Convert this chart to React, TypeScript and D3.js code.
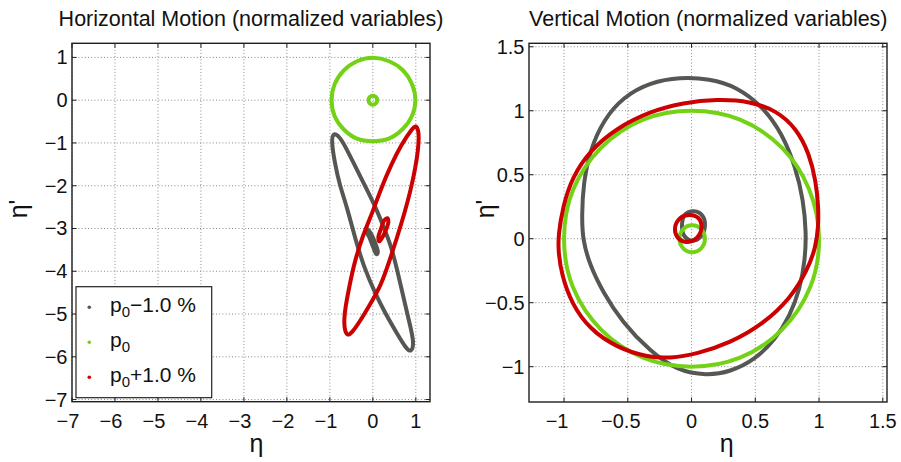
import React from "react";
import * as d3 from "d3";

type Pt = [number, number];

const FONT = "'Liberation Sans', Arial, Helvetica, sans-serif";

// series: p0-1.0 %, p0, p0+1.0 %
const seriesColors = ["#555753", "#73d216", "#cc0000"];
const legendSuffix = ["−1.0 %", "", "+1.0 %"];

// ---------- Horizontal motion (normalized variables) ----------
const hGrayBig: Pt[] = [
  [-0.92, -0.75], [-0.78, -0.85], [-0.658, -1.046], [-0.426, -1.513], [-0.193, -1.981],
  [0.04, -2.449], [0.233, -2.917], [0.419, -3.392], [0.558, -3.93], [0.737, -4.718],
  [0.884, -5.333], [0.96, -5.7], [0.89, -5.9], [0.774, -5.808], [0.542, -5.42],
  [0.272, -4.952], [0.04, -4.484], [-0.193, -3.937], [-0.395, -3.3], [-0.6, -2.5],
  [-0.774, -1.981], [-0.891, -1.434], [-0.965, -0.96],
];
const hGraySmall: Pt[] = [
  [-0.128, -3.018], [-0.047, -3.111], [0.047, -3.322], [0.116, -3.556],
  [0.081, -3.602], [0.0, -3.415], [-0.081, -3.205], [-0.151, -3.064],
];
const hGreenBig: Pt[] = [
  [0.99, 0], [0.91, 0.38], [0.7, 0.7], [0.38, 0.91], [0, 0.99], [-0.37, 0.91],
  [-0.68, 0.69], [-0.89, 0.37], [-0.96, 0], [-0.89, -0.37], [-0.68, -0.68],
  [-0.37, -0.9], [0, -0.96], [0.37, -0.9], [0.69, -0.68], [0.91, -0.37],
];
const hGreenSmall: Pt[] = [
  [0.1, 0], [0.07, 0.075], [0, 0.105], [-0.07, 0.075],
  [-0.1, 0], [-0.07, -0.075], [0, -0.105], [0.07, -0.075],
];
const hRedBig: Pt[] = [
  [1.02, -0.58], [1.08, -0.795], [1.05, -1.193], [0.988, -1.591], [0.891, -2.058],
  [0.744, -2.62], [0.558, -3.228], [0.384, -3.766], [0.193, -4.327], [-0.077, -4.795],
  [-0.309, -5.186], [-0.488, -5.44], [-0.6, -5.52], [-0.665, -5.333], [-0.665, -5.099],
  [-0.644, -4.873], [-0.542, -4.327], [-0.426, -3.782], [-0.233, -3.158], [0.0, -2.604],
  [0.193, -2.058], [0.426, -1.513], [0.658, -1.046], [0.93, -0.64],
];
const hRedSmall: Pt[] = [
  [0.337, -2.76], [0.36, -2.854], [0.302, -3.041], [0.209, -3.228],
  [0.151, -3.298], [0.128, -3.205], [0.186, -3.018], [0.267, -2.807],
];

// ---------- Vertical motion (normalized variables) ----------
const vGrayBig: Pt[] = [
  [-0.09, 1.262], [-0.325, 1.222], [-0.535, 1.109], [-0.692, 0.927], [-0.796, 0.693],
  [-0.849, 0.433], [-0.861, 0.172], [-0.853, -0.01], [-0.8, -0.2], [-0.694, -0.42],
  [-0.545, -0.65], [-0.325, -0.88], [-0.116, -1.03], [0.119, -1.07], [0.302, -1.041],
  [0.498, -0.945], [0.655, -0.79], [0.773, -0.6], [0.851, -0.39], [0.89, -0.166],
  [0.9, 0.045], [0.877, 0.302], [0.815, 0.563], [0.71, 0.823], [0.56, 1.031],
  [0.355, 1.188], [0.14, 1.25],
];
const vGraySmall: Pt[] = [
  [0.105, 0.1], [0.085, 0.18], [0.02, 0.215], [-0.05, 0.19],
  [-0.075, 0.1], [-0.055, 0.02], [0.01, -0.015], [0.075, 0.02],
];
const vGreenBig: Pt[] = [
  [1.0, 0], [0.92, 0.39], [0.71, 0.71], [0.38, 0.93], [0, 1.0], [-0.38, 0.93],
  [-0.71, 0.71], [-0.93, 0.38], [-1.0, 0], [-0.93, -0.38], [-0.71, -0.71],
  [-0.38, -0.93], [0, -1.0], [0.38, -0.93], [0.71, -0.71], [0.93, -0.38],
];
const vGreenSmall: Pt[] = [
  [0.105, 0], [0.075, 0.075], [0.005, 0.105], [-0.065, 0.075],
  [-0.095, 0], [-0.065, -0.075], [0.005, -0.105], [0.075, -0.075],
];
const vRedBig: Pt[] = [
  [0.2, 1.09], [-0.064, 1.063], [-0.325, 0.995], [-0.587, 0.865], [-0.796, 0.69],
  [-0.935, 0.484], [-1.01, 0.25], [-1.045, 0.029], [-1.045, -0.1], [-1.02, -0.28],
  [-0.94, -0.51], [-0.796, -0.71], [-0.587, -0.85], [-0.35, -0.925], [-0.169, -0.935],
  [0.041, -0.9], [0.302, -0.815], [0.563, -0.665], [0.773, -0.47], [0.91, -0.245],
  [0.975, -0.063], [0.995, 0.1], [0.995, 0.25], [0.975, 0.45], [0.925, 0.66],
  [0.825, 0.86], [0.668, 1.0], [0.459, 1.075],
];
const vRedSmall: Pt[] = [
  [0.078, 0.09], [0.055, 0.16], [-0.02, 0.185], [-0.09, 0.16],
  [-0.13, 0.08], [-0.1, 0.0], [-0.03, -0.025], [0.045, 0.01],
];

// ---------- ticks ----------
const hTicks = [-7, -6, -5, -4, -3, -2, -1, 0, 1];
const vTicks = [-1, -0.5, 0, 0.5, 1, 1.5];

const fmt = (d: number) => (d < 0 ? "−" : "") + String(Math.abs(d));

interface Curve {
  pts: Pt[];
  smooth: boolean; // true: B-spline smoothing of read points
}

interface PanelProps {
  title: string;
  xDomain: [number, number];
  yDomain: [number, number];
  left: number;
  right: number;
  top: number;
  bottom: number;
  xTicks: number[];
  yTicks: number[];
  curves: Curve[][]; // per series
  titleX: number;
  xLabelX: number;
  yLabelX: number;
  negDx: number;
}

function Panel(p: PanelProps) {
  const xs = d3.scaleLinear().domain(p.xDomain).range([p.left, p.right]);
  const ys = d3.scaleLinear().domain(p.yDomain).range([p.bottom, p.top]);
  const lineCR = d3
    .line<Pt>()
    .x((d) => xs(d[0]))
    .y((d) => ys(d[1]))
    .curve(d3.curveCatmullRomClosed.alpha(0.5));
  const lineB = d3
    .line<Pt>()
    .x((d) => xs(d[0]))
    .y((d) => ys(d[1]))
    .curve(d3.curveBasisClosed);
  const tl = 4.5;
  const axisColor = "#1e1e1e";
  return (
    <g>
      <text x={p.titleX} y={26} textAnchor="middle" fontSize={21.5} fontFamily={FONT} fill="#111">
        {p.title}
      </text>
      {p.xTicks.map((t) => (
        <line key={"gx" + t} x1={xs(t)} x2={xs(t)} y1={p.top} y2={p.bottom}
          stroke="#8a8a8a" strokeWidth={1} strokeDasharray="1 2.2" />
      ))}
      {p.yTicks.map((t) => (
        <line key={"gy" + t} x1={p.left} x2={p.right} y1={ys(t)} y2={ys(t)}
          stroke="#8a8a8a" strokeWidth={1} strokeDasharray="1 2.2" />
      ))}
      {p.curves.map((group, si) =>
        group.map((c, ci) => (
          <path key={"c" + si + "_" + ci} d={(c.smooth ? lineB(c.pts) : lineCR(c.pts)) || ""} fill="none"
            stroke={seriesColors[si]} strokeWidth={4} strokeLinejoin="round" />
        ))
      )}
      <rect x={p.left} y={p.top} width={p.right - p.left} height={p.bottom - p.top}
        fill="none" stroke={axisColor} strokeWidth={1.4} />
      {p.xTicks.map((t) => (
        <g key={"tx" + t}>
          <line x1={xs(t)} x2={xs(t)} y1={p.bottom} y2={p.bottom - tl} stroke={axisColor} strokeWidth={1} />
          <line x1={xs(t)} x2={xs(t)} y1={p.top} y2={p.top + tl} stroke={axisColor} strokeWidth={1} />
          <text x={xs(t) + (t < 0 ? p.negDx : 0)} y={427.5} textAnchor="middle" fontSize={20}
            fontFamily={FONT} fill="#111">{fmt(t)}</text>
        </g>
      ))}
      {p.yTicks.map((t) => (
        <g key={"ty" + t}>
          <line x1={p.left} x2={p.left + tl} y1={ys(t)} y2={ys(t)} stroke={axisColor} strokeWidth={1} />
          <line x1={p.right} x2={p.right - tl} y1={ys(t)} y2={ys(t)} stroke={axisColor} strokeWidth={1} />
          <text x={p.left - 4.5} y={ys(t) + 7} textAnchor="end" fontSize={20}
            fontFamily={FONT} fill="#111">{fmt(t)}</text>
        </g>
      ))}
      <text x={p.xLabelX} y={452} textAnchor="middle" fontSize={25} fontFamily={FONT} fill="#111">η</text>
      <text transform={`translate(${p.yLabelX},209) rotate(-90)`} textAnchor="middle" fontSize={25}
        fontFamily={FONT} fill="#111">η'</text>
    </g>
  );
}

export default function App() {
  const legendTop = 286.7;
  const legendRows = [0, 1, 2].map((i) => 307.3 + i * 35);
  const S = (pts: Pt[]): Curve => ({ pts, smooth: true });
  const R = (pts: Pt[]): Curve => ({ pts, smooth: false });
  return (
    <svg width={901} height={462} style={{ position: "absolute", left: 0, top: 0, background: "#fff" }}>
      <rect x={0} y={0} width={901} height={462} fill="#fff" />
      <Panel
        title="Horizontal Motion (normalized variables)"
        xDomain={[-7, 1.33]}
        yDomain={[-7.05, 1.33]}
        left={72}
        right={430}
        top={43.3}
        bottom={401.7}
        xTicks={hTicks}
        yTicks={hTicks}
        curves={[
          [S(hGrayBig), R(hGraySmall)],
          [R(hGreenBig), R(hGreenSmall)],
          [S(hRedBig), R(hRedSmall)],
        ]}
        titleX={251}
        xLabelX={256.5}
        yLabelX={27}
        negDx={-4}
      />
      <Panel
        title="Vertical Motion (normalized variables)"
        xDomain={[-1.275, 1.533]}
        yDomain={[-1.276, 1.527]}
        left={529}
        right={887}
        top={43.3}
        bottom={402}
        xTicks={vTicks}
        yTicks={vTicks}
        curves={[
          [S(vGrayBig), R(vGraySmall)],
          [R(vGreenBig), R(vGreenSmall)],
          [S(vRedBig), R(vRedSmall)],
        ]}
        titleX={708.3}
        xLabelX={726.7}
        yLabelX={494}
        negDx={-7}
      />
      <rect x={76} y={legendTop} width={135.7} height={111} fill="#fff" stroke="#222" strokeWidth={1.2} />
      {legendRows.map((y, i) => (
        <g key={"lg" + i}>
          <circle cx={89.3} cy={y} r={1.8} fill={seriesColors[i]} />
          <text x={110} y={y + 5} fontSize={21} fontFamily={FONT} fill="#111">
            p
            <tspan fontSize={15} dy={5}>0</tspan>
            {legendSuffix[i] ? <tspan dy={-5}>{legendSuffix[i]}</tspan> : null}
          </text>
        </g>
      ))}
    </svg>
  );
}
